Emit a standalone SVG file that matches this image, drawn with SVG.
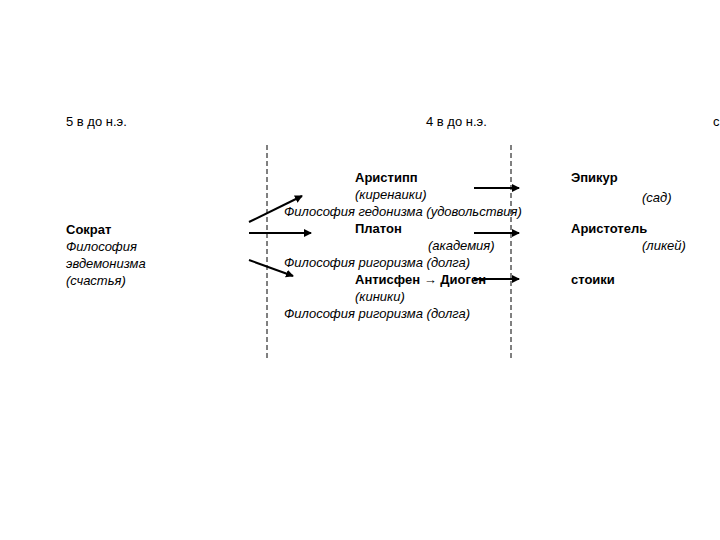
<svg xmlns="http://www.w3.org/2000/svg" width="720" height="540" viewBox="0 0 720 540">
<style>
text{font-family:"Liberation Sans",Arial,sans-serif;font-size:13px;fill:#000}
.b{font-weight:bold}.i{font-style:italic}
.a{stroke:#000;stroke-width:2;fill:none;marker-end:url(#ah)}
.d{stroke:#000;stroke-width:1;stroke-dasharray:5,3}
</style>
<defs><marker id="ah" markerWidth="8" markerHeight="8" refX="7" refY="4" orient="auto" markerUnits="userSpaceOnUse"><path d="M0,0L8,4L0,8z" fill="#000"/></marker></defs>
<rect width="720" height="540" fill="#fff"/>
<g id="timeline">
<text x="66" y="126">5 в до н.э.</text>
<text x="426" y="126">4 в до н.э.</text>
<text x="713" y="126">с</text>
<line class="d" x1="267" y1="145" x2="267" y2="358"/>
<line class="d" x1="511" y1="145" x2="511" y2="358"/>
</g>
<g id="socrates">
<text x="66" y="234" class="b">Сократ</text>
<text x="66" y="251" class="i">Философия</text>
<text x="66" y="268" class="i">эвдемонизма</text>
<text x="66" y="285" class="i">(счастья)</text>
</g>
<g id="aristipp">
<text x="355" y="182" class="b">Аристипп</text>
<text x="355" y="199" class="i">(киренаики)</text>
<text x="284" y="216" class="i">Философия гедонизма (удовольствия)</text>
</g>
<g id="platon">
<text x="355" y="233" class="b">Платон</text>
<text x="428" y="250" class="i">(академия)</text>
<text x="284" y="267" class="i">Философия ригоризма (долга)</text>
</g>
<g id="antisfen">
<text x="355" y="284" class="b">Антисфен → Диоген</text>
<text x="355" y="301" class="i">(киники)</text>
<text x="284" y="318" class="i">Философия ригоризма (долга)</text>
</g>
<g id="epikur">
<text x="571" y="182" class="b">Эпикур</text>
<text x="642" y="202" class="i">(сад)</text>
</g>
<g id="aristotel">
<text x="571" y="233" class="b">Аристотель</text>
<text x="642" y="250" class="i">(ликей)</text>
</g>
<g id="stoiki">
<text x="571" y="284" class="b">стоики</text>
</g>
<g id="connectors">
<line class="a" x1="249" y1="222" x2="302" y2="196"/>
<line class="a" x1="249" y1="233" x2="311" y2="233"/>
<line class="a" x1="249" y1="260" x2="293" y2="276"/>
<line class="a" x1="474" y1="188" x2="519" y2="188"/>
<line class="a" x1="474" y1="233" x2="519" y2="233"/>
<line class="a" x1="474" y1="279" x2="519" y2="279"/>
</g>
</svg>
